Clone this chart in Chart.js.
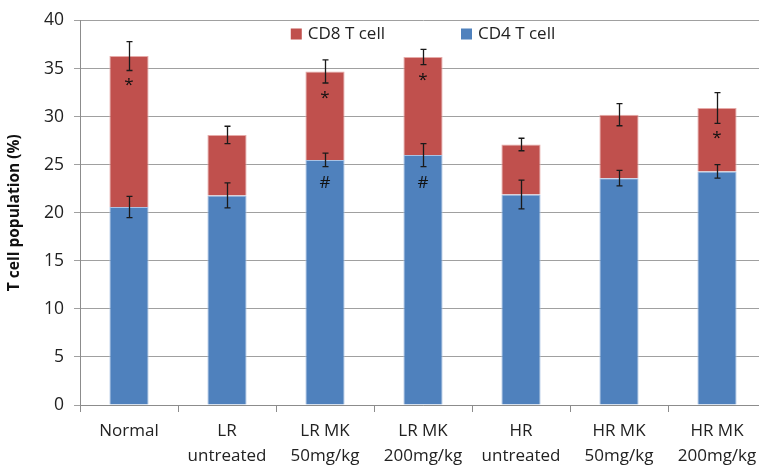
<!DOCTYPE html>
<html><head><meta charset="utf-8">
<script src="https://cdn.jsdelivr.net/npm/chart.js@4"></script>
<style>html,body{margin:0;padding:0;overflow:hidden;background:#fff}</style>
</head><body><canvas id="c" width="768" height="467"></canvas>
<script>
const categories = [["Normal"],["LR","untreated"],["LR MK","50mg/kg"],["LR MK","200mg/kg"],["HR","untreated"],["HR MK","50mg/kg"],["HR MK","200mg/kg"]];
const cd4Values = [20.6, 21.8, 25.5, 26.0, 21.9, 23.6, 24.3];
const cd4Errors = [1.1, 1.3, 0.7, 1.2, 1.5, 0.8, 0.7];
const cd8Values = [15.7, 6.3, 9.2, 10.2, 5.2, 6.6, 6.6];
const cd8Errors = [1.5, 0.9, 1.2, 0.8, 0.65, 1.15, 1.6];
const cd4Marks = ["", "", "#", "#", "", "", ""];
const cd8Marks = ["*", "", "*", "*", "", "", "*"];
const yTicks = [0, 5, 10, 15, 20, 25, 30, 35, 40];
const seriesNames = ["CD4 T cell", "CD8 T cell"];

const FONT = "'Open Sans', sans-serif";
const BLUE = "#4F81BD", RED = "#C0504D";

const errMarks = {
  id: "errMarks",
  afterDatasetsDraw(chart) {
    const ctx = chart.ctx, y = chart.scales.y;
    const errs = [cd4Errors, cd8Errors];
    const marks = [cd4Marks, cd8Marks];
    ctx.save();
    chart.data.datasets.forEach((ds, di) => {
      const meta = chart.getDatasetMeta(di);
      meta.data.forEach((bar, i) => {
        let top = 0;
        for (let k = 0; k <= di; k++) top += chart.data.datasets[k].data[i];
        const e = errs[di][i];
        const y1 = y.getPixelForValue(top + e), y2 = y.getPixelForValue(top - e);
        const x = Math.round(bar.x) + 0.5;
        ctx.strokeStyle = "#1a1a1a"; ctx.lineWidth = 1.3;
        ctx.beginPath();
        ctx.moveTo(x, y1); ctx.lineTo(x, y2);
        ctx.moveTo(x - 3, y1); ctx.lineTo(x + 3, y1);
        ctx.moveTo(x - 3, y2); ctx.lineTo(x + 3, y2);
        ctx.stroke();
        const m = marks[di][i];
        if (m) {
          ctx.fillStyle = "#111";
          ctx.textAlign = "center"; ctx.textBaseline = "middle";
          ctx.font = (m === "*" ? "17px " : "17px ") + FONT;
          ctx.fillText(m, x - 0.5, y2 + (m === "*" ? 15 : 17));
        }
      });
    });
    ctx.restore();
  }
};

const legendPlugin = {
  id: "customLegend",
  afterDraw(chart) {
    const ctx = chart.ctx, a = chart.chartArea;
    ctx.save();
    ctx.font = "17px " + FONT;
    const items = [{t: seriesNames[1], c: RED}, {t: seriesNames[0], c: BLUE}];
    const widths = items.map(it => 11 + 6 + ctx.measureText(it.t).width);
    const gap = 76;
    const total = widths[0] + widths[1] + gap;
    let x = (a.left + a.right) / 2 - total / 2;
    const cy = 34;
    items.forEach((it, i) => {
      ctx.fillStyle = it.c;
      ctx.fillRect(x, cy - 5.5, 11, 11);
      ctx.fillStyle = "#222"; ctx.textBaseline = "middle"; ctx.textAlign = "left";
      ctx.fillText(it.t, x + 17, cy);
      x += widths[i] + gap;
    });
    ctx.restore();
  }
};

new Chart(document.getElementById("c"), {
  type: "bar",
  data: {
    labels: categories,
    datasets: [
      {label: seriesNames[0], data: cd4Values, backgroundColor: BLUE, borderColor: "#a9c2e4", borderWidth: 1, barPercentage: 0.4, categoryPercentage: 1},
      {label: seriesNames[1], data: cd8Values, backgroundColor: RED, borderColor: "#e6aaa8", borderWidth: 1, barPercentage: 0.4, categoryPercentage: 1}
    ]
  },
  options: {
    responsive: false, animation: false,
    layout: {padding: {top: 20, right: 2, left: 0, bottom: 0}},
    plugins: {legend: {display: false}, tooltip: {enabled: false}},
    scales: {
      x: {
        stacked: true, offset: true,
        grid: {offset: true, drawOnChartArea: false, tickLength: 7, color: "#8c8c8c"},
        border: {color: "#8c8c8c"},
        ticks: {font: {family: FONT, size: 17, lineHeight: 1.5}, color: "#222", padding: 6, maxRotation: 0},
        afterFit(s) { s.height = 62; }
      },
      y: {
        stacked: true, min: 0, max: 40,
        afterBuildTicks(s) { s.ticks = yTicks.map(v => ({value: v})); },
        grid: {color: "#a0a0a0", tickLength: 6},
        border: {color: "#8c8c8c"},
        ticks: {font: {family: FONT, size: 17.5}, color: "#222", padding: 10},
        title: {display: true, text: "T cell population (%)", font: {family: FONT, size: 15.5, weight: "bold"}, color: "#111", padding: {top: 5, bottom: 4}},
        afterFit(s) { s.width = 80; }
      }
    }
  },
  plugins: [errMarks, legendPlugin]
});
</script></body></html>
